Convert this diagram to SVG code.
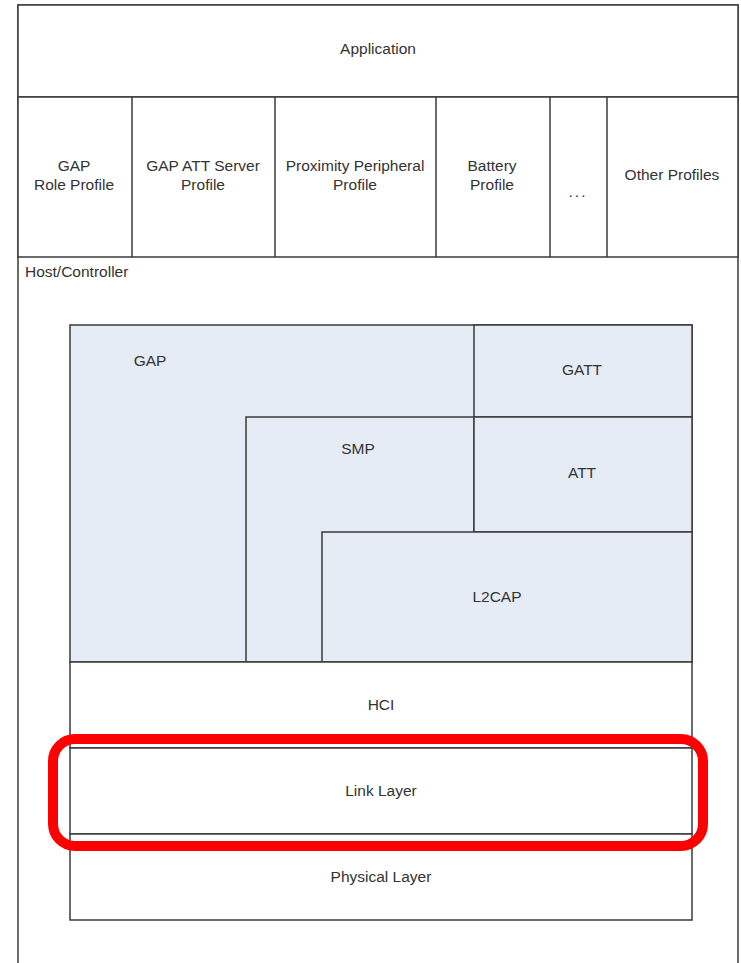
<svg xmlns="http://www.w3.org/2000/svg" width="741" height="963" viewBox="0 0 741 963">
<style>
.ln{fill:none;stroke:#3a3a3a;stroke-width:1.5}
.wb{fill:#ffffff;stroke:#3a3a3a;stroke-width:1.5}
.bb{fill:#e6ecf6;stroke:#3a3a3a;stroke-width:1.5}
.t{font-family:"Liberation Sans",Arial,sans-serif;font-size:15.5px;fill:#333333;text-anchor:middle}
.tl{font-family:"Liberation Sans",Arial,sans-serif;font-size:15.5px;fill:#333333}
</style>
<rect width="741" height="963" fill="#ffffff"/>
<g id="frame">
<rect class="wb" x="18" y="5" width="720" height="970"/>
</g>
<g id="application">
<rect class="wb" x="18" y="5" width="720" height="92"/>
<text class="t" x="378" y="54">Application</text>
</g>
<g id="profiles">
<rect class="wb" x="18" y="97" width="720" height="160"/>
<line class="ln" x1="132" y1="97" x2="132" y2="257"/>
<line class="ln" x1="275" y1="97" x2="275" y2="257"/>
<line class="ln" x1="436" y1="97" x2="436" y2="257"/>
<line class="ln" x1="550" y1="97" x2="550" y2="257"/>
<line class="ln" x1="607" y1="97" x2="607" y2="257"/>
</g>
<g id="gap-role-profile"><text class="t" x="74" y="171">GAP</text><text class="t" x="74" y="190">Role Profile</text></g>
<g id="gap-att-server-profile"><text class="t" x="203" y="171">GAP ATT Server</text><text class="t" x="203" y="190">Profile</text></g>
<g id="proximity-peripheral-profile"><text class="t" x="355" y="171">Proximity Peripheral</text><text class="t" x="355" y="190">Profile</text></g>
<g id="battery-profile"><text class="t" x="492" y="171">Battery</text><text class="t" x="492" y="190">Profile</text></g>
<g id="ellipsis"><text class="t" x="578" y="197" letter-spacing="2">...</text></g>
<g id="other-profiles"><text class="t" x="672" y="180">Other Profiles</text></g>
<g id="host-controller"><text class="tl" x="25" y="277">Host/Controller</text></g>
<g id="gap"><rect class="bb" x="70" y="325" width="622" height="337"/><text class="t" x="150" y="366">GAP</text></g>
<g id="gatt"><rect class="bb" x="474" y="325" width="218" height="92"/><text class="t" x="582" y="375">GATT</text></g>
<g id="smp"><rect class="bb" x="246" y="417" width="228" height="245"/><text class="t" x="358" y="454">SMP</text></g>
<g id="att"><rect class="bb" x="474" y="417" width="218" height="115"/><text class="t" x="582" y="478">ATT</text></g>
<g id="l2cap"><rect class="bb" x="322" y="532" width="370" height="130"/><text class="t" x="497" y="602">L2CAP</text></g>
<g id="hci"><rect class="wb" x="70" y="662" width="622" height="86"/><text class="t" x="381" y="710">HCI</text></g>
<g id="link-layer"><rect class="wb" x="70" y="748" width="622" height="86"/><text class="t" x="381" y="796">Link Layer</text></g>
<g id="physical-layer"><rect class="wb" x="70" y="834" width="622" height="86"/><text class="t" x="381" y="882">Physical Layer</text></g>
<g id="highlight"><rect x="53" y="739" width="650" height="107" rx="22" ry="22" fill="none" stroke="#ff0000" stroke-width="10"/></g>
<g id="connectors"></g>
</svg>
